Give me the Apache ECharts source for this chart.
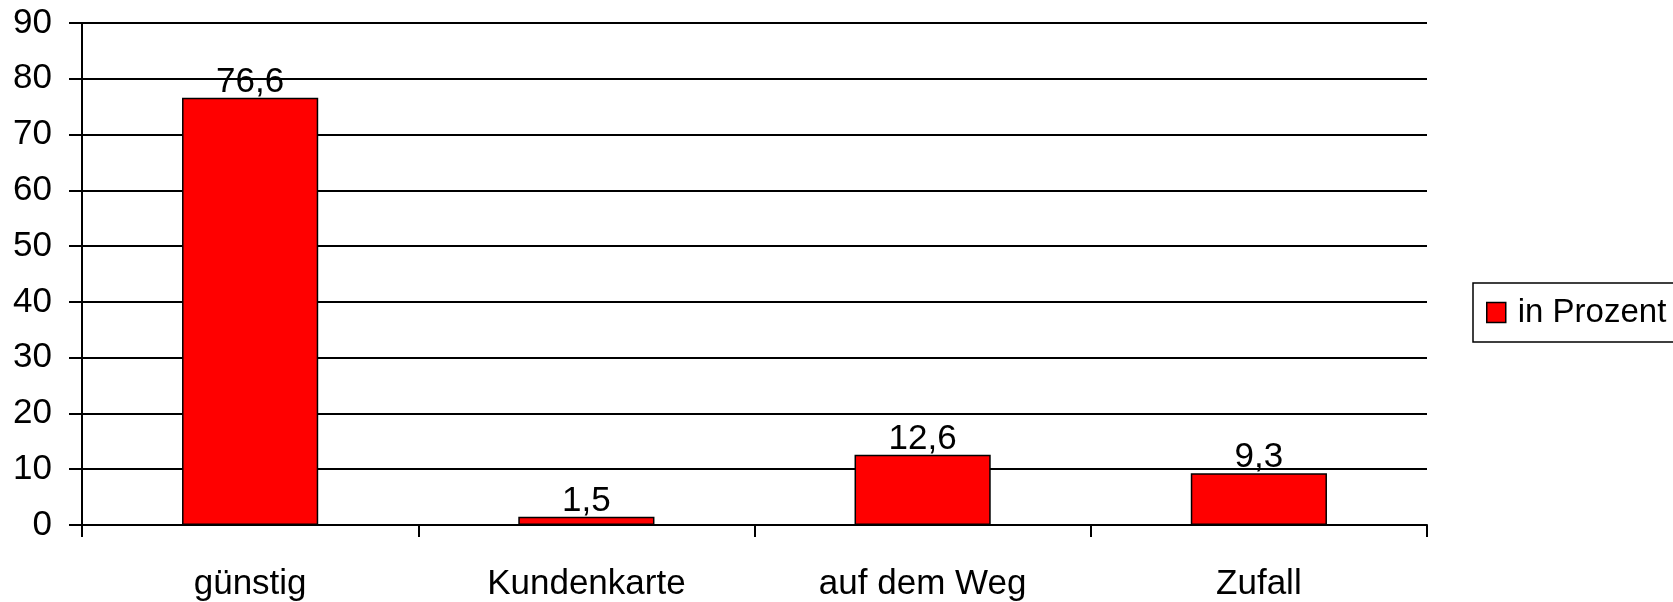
<!DOCTYPE html>
<html>
<head>
<meta charset="utf-8">
<script src="https://cdn.jsdelivr.net/npm/echarts@6/dist/echarts.min.js"></script>
<style>
  html, body { margin: 0; padding: 0; background: #fff; }
  #chart { width: 1673px; height: 602px; }
</style>
</head>
<body>
<div id="chart"></div>
<script>
// Kategorien und Werte (in Prozent)
const categories = ['günstig', 'Kundenkarte', 'auf dem Weg', 'Zufall']
const values = [76.6, 1.5, 12.6, 9.3]
const seriesName = 'in Prozent'
const yTicks = { min: 0, max: 90, interval: 10 }

const FONT = '"Liberation Sans", Arial, sans-serif'
const FS = 35
const LINE = { color: '#000', width: 2 }

const chart = echarts.init(document.getElementById('chart'))

// Dezimalkomma wie im Original
const fmt = v => String(v).replace('.', ',')

chart.setOption({
  animation: false,
  textStyle: { fontFamily: FONT, color: '#000' },
  grid: { left: 82, right: 246, top: 23, bottom: 75 },
  legend: {
    data: [seriesName],
    left: 1473, top: 283,
    orient: 'vertical',
    padding: [13, 60, 13, 13],
    borderColor: '#000', borderWidth: 1.5,
    icon: 'rect', itemWidth: 19, itemHeight: 20,
    itemStyle: { borderColor: '#000', borderWidth: 1.5 },
    textStyle: { fontSize: 33, fontFamily: FONT, color: '#000', padding: [0, 0, 0, 7] }
  },
  xAxis: {
    type: 'category',
    data: categories,
    boundaryGap: true,
    axisLine: { lineStyle: LINE },
    axisTick: { show: true, length: 12, lineStyle: LINE },
    axisLabel: { fontSize: FS, color: '#000', fontFamily: FONT, margin: 42 },
    splitLine: { show: false }
  },
  yAxis: {
    type: 'value',
    min: yTicks.min, max: yTicks.max, interval: yTicks.interval,
    axisLine: { show: true, lineStyle: LINE },
    axisTick: { show: true, length: 13, lineStyle: LINE },
    axisLabel: { fontSize: FS, color: '#000', fontFamily: FONT, margin: 30 },
    splitLine: { show: true, lineStyle: LINE }
  },
  series: [{
    name: seriesName,
    type: 'bar',
    data: values,
    barWidth: '40.5%',
    itemStyle: { color: '#ff0000', borderColor: '#000', borderWidth: 1.5 },
    label: {
      show: true, position: 'top', distance: -2,
      fontSize: FS, color: '#000', fontFamily: FONT,
      formatter: p => fmt(p.value)
    }
  }]
})
</script>
</body>
</html>
